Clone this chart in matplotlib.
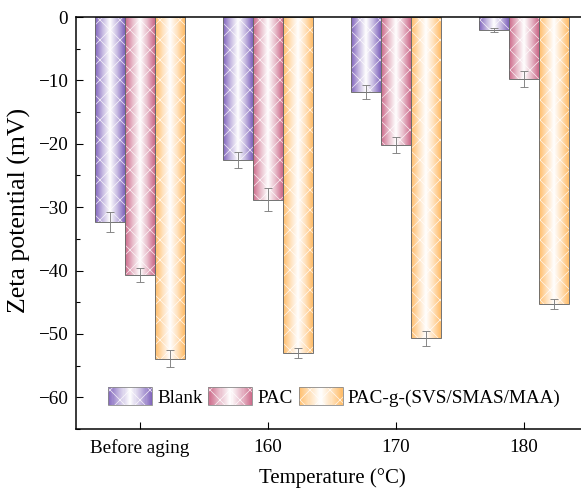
import numpy as np
import matplotlib
matplotlib.use("Agg")
import matplotlib.pyplot as plt
from matplotlib.colors import LinearSegmentedColormap, to_rgb
from matplotlib.patches import Rectangle
from matplotlib.legend_handler import HandlerBase
from matplotlib.ticker import MultipleLocator

categories = ["Before aging", "160", "170", "180"]
series = ["Blank", "PAC", "PAC-g-(SVS/SMAS/MAA)"]
blank = [-32.3, -22.6, -11.9, -2.05]
blank_err = [1.6, 1.3, 1.1, 0.35]
pac = [-40.7, -28.8, -20.2, -9.8]
pac_err = [1.1, 1.8, 1.2, 1.3]
graft = [-53.9, -53.0, -50.7, -45.3]
graft_err = [1.3, 0.8, 1.2, 0.8]

values = [blank, pac, graft]
errors = [blank_err, pac_err, graft_err]
colors = ["#8064bc", "#cc6a8a", "#ffbd6a"]

DPI = 60
plt.rcParams['font.family'] = ['Liberation Serif', 'DejaVu Serif']
plt.rcParams['hatch.linewidth'] = 0.9
plt.rcParams['axes.unicode_minus'] = True

fig = plt.figure(figsize=(581 / DPI, 491 / DPI), dpi=DPI)
ax = fig.add_axes([76 / 581, 62 / 491, 512 / 581, 412 / 491])

def make_cmap(c):
    r = np.array(to_rgb(c))
    w = np.array([1, 1, 1])
    mid = r + (w - r) * 0.55
    return LinearSegmentedColormap.from_list("g", [r, mid, w, mid, r])

x = np.arange(len(categories))
width = 0.234
grad = np.linspace(0, 1, 64).reshape(1, -1)

for i, (vals, errs, c) in enumerate(zip(values, errors, colors)):
    pos = x + (i - 1) * width
    cmap = make_cmap(c)
    bars = ax.bar(pos, vals, width, facecolor='none', edgecolor='none', zorder=2)
    for b in bars:
        bx, by = b.get_x(), b.get_y()
        bw, bh = b.get_width(), b.get_height()
        y0, y1 = min(by, by + bh), max(by, by + bh)
        im = ax.imshow(grad, cmap=cmap, aspect='auto', extent=[bx, bx + bw, y0, y1],
                       interpolation='bilinear', zorder=1.5)
        im.set_clip_path(b)
    ax.bar(pos, vals, width, facecolor='none', edgecolor='white', linewidth=0,
           hatch='x', zorder=2.1, alpha=0.8)
    ax.bar(pos, vals, width, facecolor='none', edgecolor='#6a6a6a', linewidth=1.1, zorder=2.2)
    ax.errorbar(pos, vals, yerr=errs, fmt='none', ecolor='#808080', elinewidth=1.1,
                capsize=4.5, capthick=1.1, zorder=3)

ax.set_xlim(-0.5, 3.5)
ax.set_ylim(-65, 0)
ax.set_xticks(x)
ax.set_xticklabels(categories)
ax.yaxis.set_major_locator(MultipleLocator(10))
ax.yaxis.set_minor_locator(MultipleLocator(5))
ax.tick_params(axis='both', direction='in', labelsize=23, width=1.3, length=8.5)
ax.tick_params(axis='x', pad=12)
ax.tick_params(axis='y', pad=10)
ax.tick_params(axis='y', which='minor', direction='in', width=1.3, length=5)
ax.tick_params(axis='x', which='minor', bottom=False)
for s in ax.spines.values():
    s.set_linewidth(1.8)
ax.set_ylabel("Zeta potential (mV)", fontsize=31)
ax.yaxis.set_label_coords(-0.088, 0.53)
ax.set_xlabel("Temperature (\u00b0C)", fontsize=25, labelpad=13)


class GradHandler(HandlerBase):
    def __init__(self, color):
        super().__init__()
        self.color = color

    def create_artists(self, legend, orig_handle, xdescent, ydescent, width, height, fontsize, trans):
        cmap = make_cmap(self.color)
        n = 40
        arts = []
        for k in range(n):
            r = Rectangle((-xdescent + width * k / n, -ydescent), width / n * 1.05, height,
                          facecolor=cmap((k + 0.5) / n), edgecolor='none', transform=trans)
            arts.append(r)
        h = Rectangle((-xdescent, -ydescent), width, height, facecolor='none',
                      edgecolor='white', linewidth=0, hatch='x', alpha=0.8, transform=trans)
        arts.append(h)
        o = Rectangle((-xdescent, -ydescent), width, height, facecolor='none',
                      edgecolor='#8a8a8a', linewidth=1.0, transform=trans)
        arts.append(o)
        return arts

handles = [Rectangle((0, 0), 1, 1) for _ in series]
hmap = {h: GradHandler(c) for h, c in zip(handles, colors)}
leg = ax.legend(handles, series, handler_map=hmap, ncol=3, frameon=False,
                fontsize=23, loc='center left', bbox_to_anchor=(0.0625, 0.078),
                handlelength=2.3, handleheight=1.1, handletextpad=0.26,
                columnspacing=0.3, borderaxespad=0, borderpad=0)

fig.savefig("out.png", dpi=DPI)
